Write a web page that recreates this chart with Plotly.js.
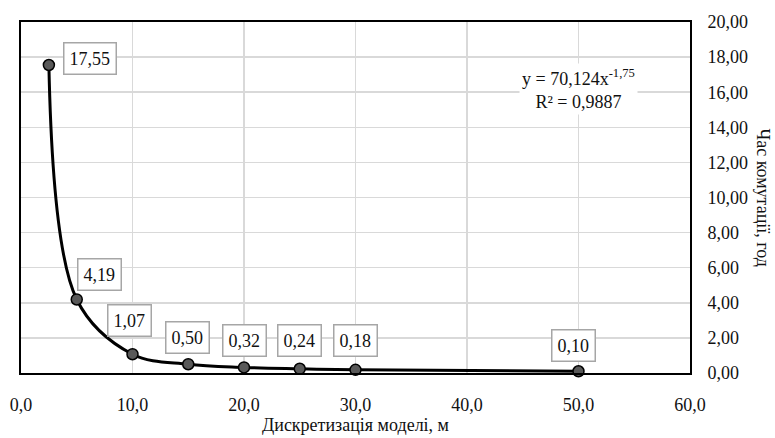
<!DOCTYPE html>
<html>
<head>
<meta charset="utf-8">
<script src="https://cdn.plot.ly/plotly-3.0.1.min.js"></script>
<style>html,body{margin:0;padding:0;background:#fff;}#chart{width:775px;height:438px;}</style>
</head>
<body>
<div id="chart"></div>
<script>
const xValues = [2.5, 5, 10, 15, 20, 25, 30, 50];
const yValues = [17.55, 4.19, 1.07, 0.50, 0.32, 0.24, 0.18, 0.10];
const pointLabels = ["17,55", "4,19", "1,07", "0,50", "0,32", "0,24", "0,18", "0,10"];
const labelShiftX = [41, 23, -3, -1, 0, 0, 0, -5];
const labelShiftY = [7, 25, 34, 27, 27, 28, 29, 26];
const xTitle = "Дискретизація моделі, м";
const yTitle = "Час комутації, год";
const trendText = "y = 70,124x<sup>-1,75</sup><br>R² = 0,9887";

const font = "Liberation Serif";

const trace = {
  x: xValues, y: yValues, type: "scatter", mode: "lines+markers",
  line: {color: "#000", width: 3, shape: "spline", smoothing: 1},
  marker: {size: 11, color: "#595959", line: {color: "#000", width: 1.5}},
  hoverinfo: "skip", cliponaxis: false
};

const annotations = xValues.map((x, i) => ({
  x: x, y: yValues[i], xref: "x", yref: "y",
  text: pointLabels[i], showarrow: false,
  xshift: labelShiftX[i], yshift: labelShiftY[i],
  font: {family: font, size: 18, color: "#111"},
  bgcolor: "#fff", bordercolor: "#a6a6a6", borderwidth: 1.5, borderpad: 5
}));
annotations.push({
  xref: "paper", yref: "paper", x: 0.8326, y: 0.809,
  xanchor: "center", yanchor: "middle",
  text: trendText, showarrow: false, align: "center",
  font: {family: font, size: 18, color: "#111"},
  bgcolor: "#fff", borderpad: 2
});
annotations.push({
  xref: "paper", yref: "paper", x: 1.1076, y: 0.5, xanchor: "center", yanchor: "middle",
  xshift: 2,
  text: yTitle, showarrow: false, textangle: 90,
  font: {family: font, size: 18, color: "#111"}
});

const layout = {
  width: 775, height: 438,
  margin: {l: 21, r: 85, t: 22, b: 65},
  paper_bgcolor: "#fff", plot_bgcolor: "#fff",
  separators: ", ",
  showlegend: false,
  font: {family: font, size: 18, color: "#111"},
  xaxis: {
    range: [0, 60], dtick: 10, tick0: 0, tickformat: ".1f",
    showgrid: true, gridcolor: "#d9d9d9", gridwidth: 1.5,
    showline: true, linecolor: "#000", linewidth: 2, mirror: true,
    zeroline: false, ticks: "", ticklen: 0, ticklabelstandoff: 14,
    tickfont: {family: font, size: 18, color: "#111"},
    title: {text: xTitle, font: {family: font, size: 18, color: "#111"}, standoff: 4}
  },
  yaxis: {
    range: [0, 20], dtick: 2, tick0: 0, tickformat: ".2f", side: "right",
    showgrid: true, gridcolor: "#d9d9d9", gridwidth: 1.5,
    showline: true, linecolor: "#000", linewidth: 2, mirror: true,
    zeroline: false, ticks: "", ticklen: 0, ticklabelstandoff: 12,
    tickfont: {family: font, size: 18, color: "#111"}
  },
  annotations: annotations
};

Plotly.newPlot("chart", [trace], layout, {displayModeBar: false, staticPlot: true});
</script>
</body>
</html>
